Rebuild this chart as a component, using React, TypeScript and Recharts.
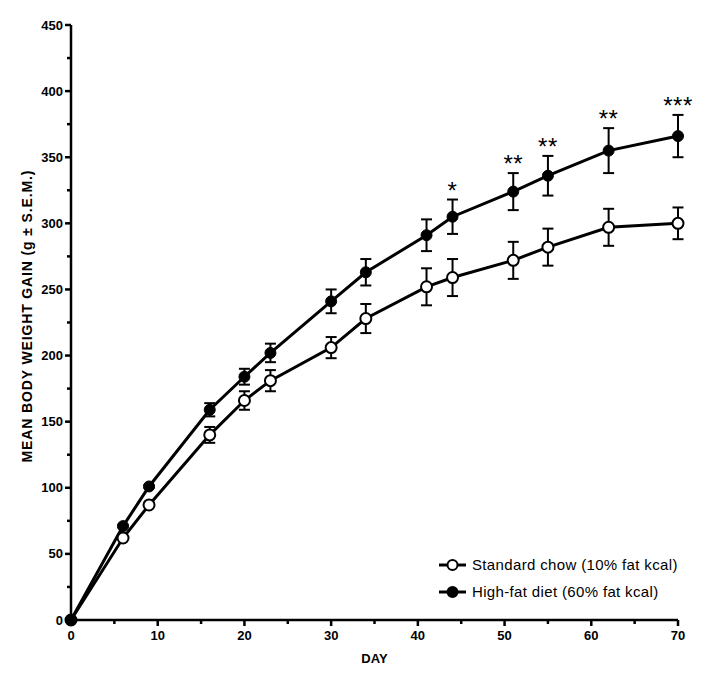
import React from "react";
import {
  ComposedChart,
  Line,
  XAxis,
  YAxis,
  ErrorBar,
  Label,
} from "recharts";

const days = [0, 6, 9, 16, 20, 23, 30, 34, 41, 44, 51, 55, 62, 70];
const standardChow = [0, 62, 87, 140, 166, 181, 206, 228, 252, 259, 272, 282, 297, 300];
const standardErr = [0, 1, 1, 6, 7, 8, 8, 11, 14, 14, 14, 14, 14, 12];
const highFat = [0, 71, 101, 159, 184, 202, 241, 263, 291, 305, 324, 336, 355, 366];
const highFatErr = [0, 1, 1, 5, 6, 7, 9, 10, 12, 13, 14, 15, 17, 16];
const significance = ["", "", "", "", "", "", "", "", "", "*", "**", "**", "**", "***"];

const xTicks = [0, 5, 10, 15, 20, 25, 30, 35, 40, 45, 50, 55, 60, 65, 70];
const yTicks = [0, 25, 50, 75, 100, 125, 150, 175, 200, 225, 250, 275, 300, 325, 350, 375, 400, 425, 450];

const data = days.map((d, i) => ({
  day: d,
  std: standardChow[i],
  stdErr: standardErr[i],
  hf: highFat[i],
  hfErr: highFatErr[i],
}));

const FONT = "'Liberation Sans', Arial, sans-serif";

const XTick = (props: any) => {
  const { x, y, payload } = props;
  const major = payload.value % 10 === 0;
  const axisY = y - 6;
  return (
    <g>
      <line x1={x} x2={x} y1={axisY} y2={axisY + (major ? 6 : 4)} stroke="#000" strokeWidth={2.5} />
      {major && (
        <text x={x} y={axisY + 19.5} textAnchor="middle" fontFamily={FONT} fontWeight="bold" fontSize={13} fill="#000">
          {payload.value}
        </text>
      )}
    </g>
  );
};

const YTick = (props: any) => {
  const { x, y, payload } = props;
  const major = payload.value % 50 === 0;
  const axisX = x + 6;
  return (
    <g>
      <line x1={axisX} x2={axisX - (major ? 6 : 4)} y1={y} y2={y} stroke="#000" strokeWidth={2.5} />
      {major && (
        <text x={axisX - 8} y={y + 4.5} textAnchor="end" fontFamily={FONT} fontWeight="bold" fontSize={13} fill="#000">
          {payload.value}
        </text>
      )}
    </g>
  );
};

const SigLabel = (props: any) => {
  const { x, y, index } = props;
  const s = significance[index];
  if (!s) return null;
  return (
    <text x={x} y={y - 1} textAnchor="middle" fontFamily={FONT} fontSize={24} letterSpacing={0.5} fill="#000">
      {s}
    </text>
  );
};

const LegendRow = ({ filled, text }: { filled: boolean; text: string }) => (
  <div style={{ display: "flex", alignItems: "center", height: 27 }}>
    <svg width={30} height={14} style={{ marginRight: 4 }}>
      <line x1={1} x2={28} y1={7} y2={7} stroke="#000" strokeWidth={3} />
      <circle cx={14.5} cy={7} r={5} fill={filled ? "#000" : "#fff"} stroke="#000" strokeWidth={2} />
    </svg>
    <span style={{ fontFamily: FONT, fontSize: 15, letterSpacing: 0.35, color: "#000", whiteSpace: "nowrap" }}>
      {text}
    </span>
  </div>
);

export default function App() {
  return (
    <div style={{ position: "relative", width: 714, height: 660, background: "#fff", overflow: "hidden" }}>
      <ComposedChart width={714} height={660} data={data} margin={{ top: 17, right: 44, bottom: 8, left: 11 }}>
        <XAxis
          dataKey="day"
          type="number"
          domain={[0, 70]}
          ticks={xTicks}
          interval={0}
          axisLine={{ stroke: "#000", strokeWidth: 2.5 }}
          tickLine={false}
          tickSize={6}
          tickMargin={0}
          tick={<XTick />}
          height={40}
        >
          <Label
            content={(p: any) => (
              <text
                x={p.viewBox.x + p.viewBox.width / 2}
                y={p.viewBox.y + 43}
                textAnchor="middle"
                fontFamily={FONT}
                fontWeight="bold"
                fontSize={13}
                fill="#000"
              >
                DAY
              </text>
            )}
          />
        </XAxis>
        <YAxis
          type="number"
          domain={[0, 450]}
          ticks={yTicks}
          interval={0}
          axisLine={{ stroke: "#000", strokeWidth: 2.5 }}
          tickLine={false}
          tickSize={6}
          tickMargin={0}
          tick={<YTick />}
          width={52}
        >
          <Label
            content={() => {
              const cx = 19;
              const cy = 308.5;
              return (
                <text
                  x={cx}
                  y={cy}
                  transform={`rotate(-90 ${cx} ${cy})`}
                  textAnchor="middle"
                  dominantBaseline="central"
                  fontFamily={FONT}
                  fontWeight="bold"
                  fontSize={14}
                  textLength={292}
                  lengthAdjust="spacing"
                  fill="#000"
                >
                  MEAN BODY WEIGHT GAIN (g ± S.E.M.)
                </text>
              );
            }}
          />
        </YAxis>
        <Line
          dataKey="std"
          stroke="#000"
          strokeWidth={3}
          isAnimationActive={false}
          dot={{ r: 5.5, fill: "#fff", stroke: "#000", strokeWidth: 2 }}
          activeDot={false}
        >
          <ErrorBar dataKey="stdErr" direction="y" width={5.5} stroke="#000" strokeWidth={2} />
        </Line>
        <Line
          dataKey="hf"
          stroke="#000"
          strokeWidth={3}
          isAnimationActive={false}
          dot={{ r: 5.5, fill: "#000", stroke: "#000", strokeWidth: 1 }}
          activeDot={false}
        >
          <ErrorBar dataKey="hfErr" direction="y" width={5.5} stroke="#000" strokeWidth={2} />
        </Line>
        <Line
          dataKey={(d: any) => d.hf + d.hfErr}
          stroke="none"
          dot={false}
          activeDot={false}
          isAnimationActive={false}
          label={<SigLabel />}
        />
      </ComposedChart>
      <div style={{ position: "absolute", left: 430, top: 543 }}>
        <LegendRow filled={false} text="Standard chow (10% fat kcal)" />
        <LegendRow filled={true} text="High-fat diet (60% fat kcal)" />
      </div>
    </div>
  );
}
